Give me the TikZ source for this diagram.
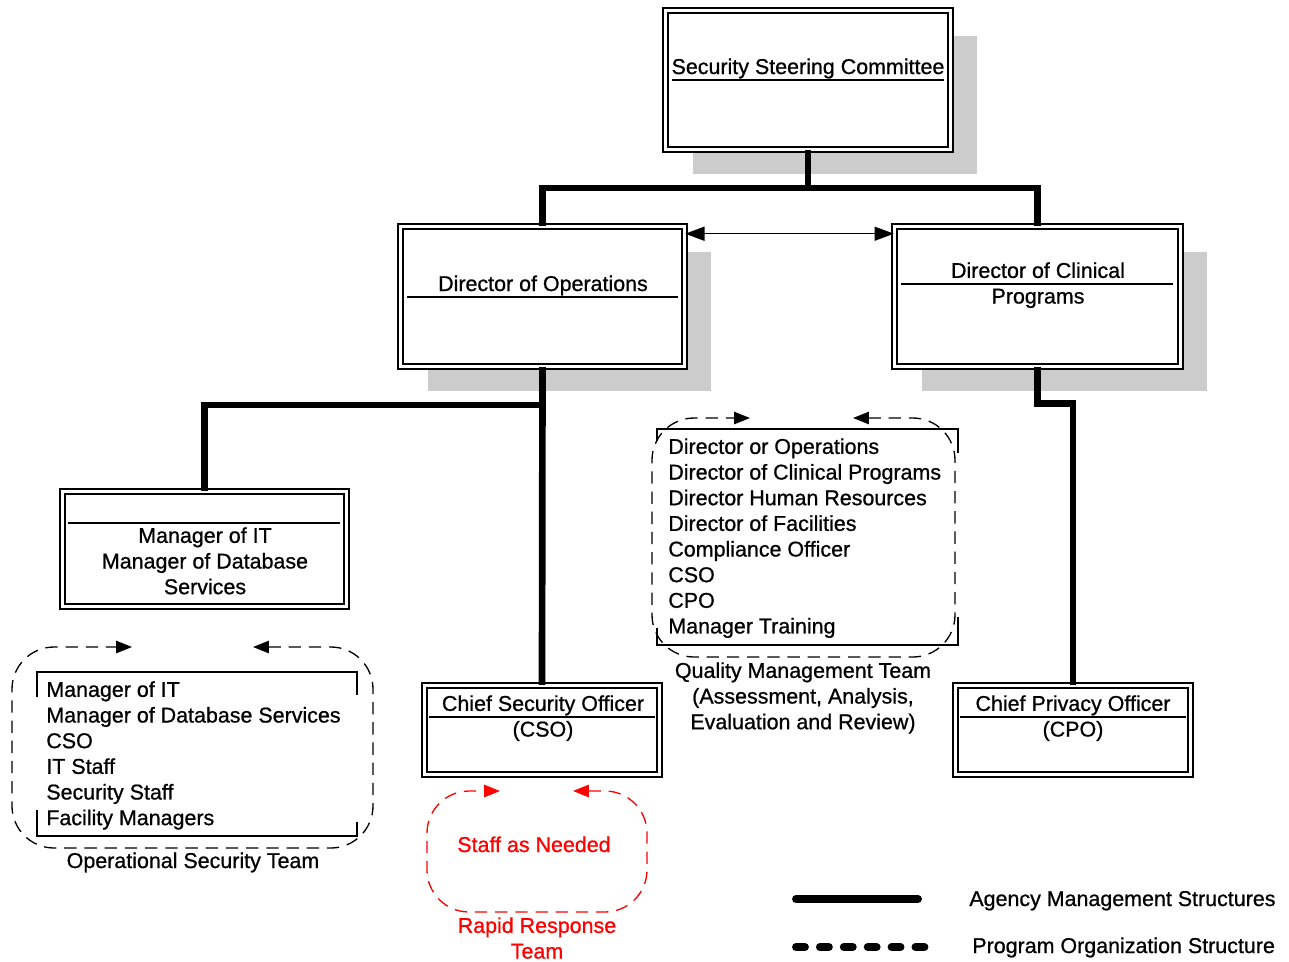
\documentclass[tikz,border=0pt]{standalone}
\usepackage{fontspec}
\setmainfont[FakeBold=0.8]{Liberation Sans}
\usetikzlibrary{arrows.meta,shadows}

\begin{document}
\begin{tikzpicture}[x=0.02cm, y=-0.02cm, inner sep=0pt,
  font=\fontsize{12.2}{14.6}\selectfont,
  orgbox/.style={draw, double, line width=0.8pt, double distance=2pt, fill=white},
  shadowbox/.style={orgbox, drop shadow={shadow xshift=0.54cm, shadow yshift=-0.5cm,
    fill=black!20, opacity=1}},
  mgmt/.style={line width=3.8pt},
  divider/.style={line width=0.8pt},
  bracket/.style={line width=0.75pt},
  teamloop/.style={line width=0.75pt, dash pattern=on 7pt off 4.5pt, rounded corners=24pt,
    {Triangle[length=9pt,width=7pt]}-{Triangle[length=9pt,width=7pt]}}]
  \useasboundingbox (0,0) rectangle (1289,961);

  \node[shadowbox, minimum width=5.70cm, minimum height=2.78cm] (ssc) at (808,80) {};
  \node[shadowbox, minimum width=5.68cm, minimum height=2.80cm] (dirops) at (542.5,296.5) {};
  \node[shadowbox, minimum width=5.72cm, minimum height=2.80cm] (dirclin) at (1037.5,296.5) {};
  \node[orgbox, minimum width=5.68cm, minimum height=2.30cm] (mgrit) at (204.5,549) {};
  \node[orgbox, minimum width=4.70cm, minimum height=1.78cm] (cso) at (542,730) {};
  \node[orgbox, minimum width=4.70cm, minimum height=1.78cm] (cpo) at (1073,730) {};

  \node[anchor=base] (ssctext) at (808,74) {Security Steering Committee};
  \draw[divider] (672,80) -- (944,80);
  \node[anchor=base] (opstext) at (543,291) {Director of Operations};
  \draw[divider] (407,297) -- (678,297);
  \node[align=center, anchor=north] (clintext) at (1038,262) {Director of Clinical\\Programs};
  \draw[divider] (901,284) -- (1173,284);
  \node[align=center, anchor=north] (mgrtext) at (205,527)
    {Manager of IT\\Manager of Database\\Services};
  \draw[divider] (68,523) -- (340,523);
  \node[align=center, anchor=north] (csotext) at (543,695) {Chief Security Officer\\(CSO)};
  \draw[divider] (429,717) -- (655,717);
  \node[align=center, anchor=north] (cpotext) at (1073,695) {Chief Privacy Officer\\(CPO)};
  \draw[divider] (960,717) -- (1186,717);

  \coordinate (topjoin) at (808,188);
  \coordinate (opsjoin) at (542,405);
  \draw[mgmt] (ssc.south) -- (topjoin);
  \draw[mgmt] (dirops.north) |- (topjoin) -| (dirclin.north);
  \draw[mgmt] (dirops.south) -- (cso.north);
  \draw[mgmt] (mgrit.north) |- (opsjoin);
  \draw[mgmt] (dirclin.south) -- ++(0,36) -| (cpo.north);
  \draw[line width=0.8pt, {Triangle[length=11pt,width=8pt]}-{Triangle[length=11pt,width=8pt]}]
    ([yshift=-4.5pt]dirops.north east) -- ([yshift=-4.5pt]dirclin.north west);

  \node[align=left, anchor=north west] (ostlist) at (46,681)
    {Manager of IT\\Manager of Database Services\\CSO\\IT Staff\\Security Staff\\Facility Managers};
  \draw[bracket] (37,697) -- (37,672) -- (357,672) -- (357,695);
  \draw[bracket] (37,810) -- (37,836) -- (357,836) -- (357,822);
  \draw[teamloop] (253,647) -| (373,848) -| (12,647) -- (132,647);
  \node[anchor=base] (ostlabel) at (193,868) {Operational Security Team};

  \node[align=left, anchor=north west] (qmtlist) at (668,438)
    {Director or Operations\\Director of Clinical Programs\\Director Human Resources\\
     Director of Facilities\\Compliance Officer\\CSO\\CPO\\Manager Training};
  \draw[bracket] (657,441) -- (657,429) -- (958,429) -- (958,453);
  \draw[bracket] (657,628) -- (657,645) -- (958,645) -- (958,617);
  \draw[teamloop] (853,418) -| (955,657) -| (652,418) -- (750,418);
  \node[align=center, anchor=north] (qmtlabel) at (803,662)
    {Quality Management Team\\(Assessment, Analysis,\\Evaluation and Review)};

  \draw[teamloop, red] (573,791) -| (647,912) -| (427,791) -- (500,791);
  \node[anchor=base, text=red] (rrtstaff) at (534,852) {Staff as Needed};
  \node[align=center, anchor=north, text=red] (rrtlabel) at (537,917) {Rapid Response\\Team};

  \coordinate (legA1) at (796,899);
  \coordinate (legA2) at (918,899);
  \coordinate (legB1) at (796,947);
  \coordinate (legB2) at (925,947);
  \draw[line width=4.5pt, line cap=round] (legA1) -- (legA2);
  \draw[line width=4.5pt, line cap=round, dash pattern=on 5.1pt off 8.5pt] (legB1) -- (legB2);
  \node[anchor=base west] (legAtext) at (969,906) {Agency Management Structures};
  \node[anchor=base west] (legBtext) at (972,953) {Program Organization Structure};
\end{tikzpicture}
\end{document}
